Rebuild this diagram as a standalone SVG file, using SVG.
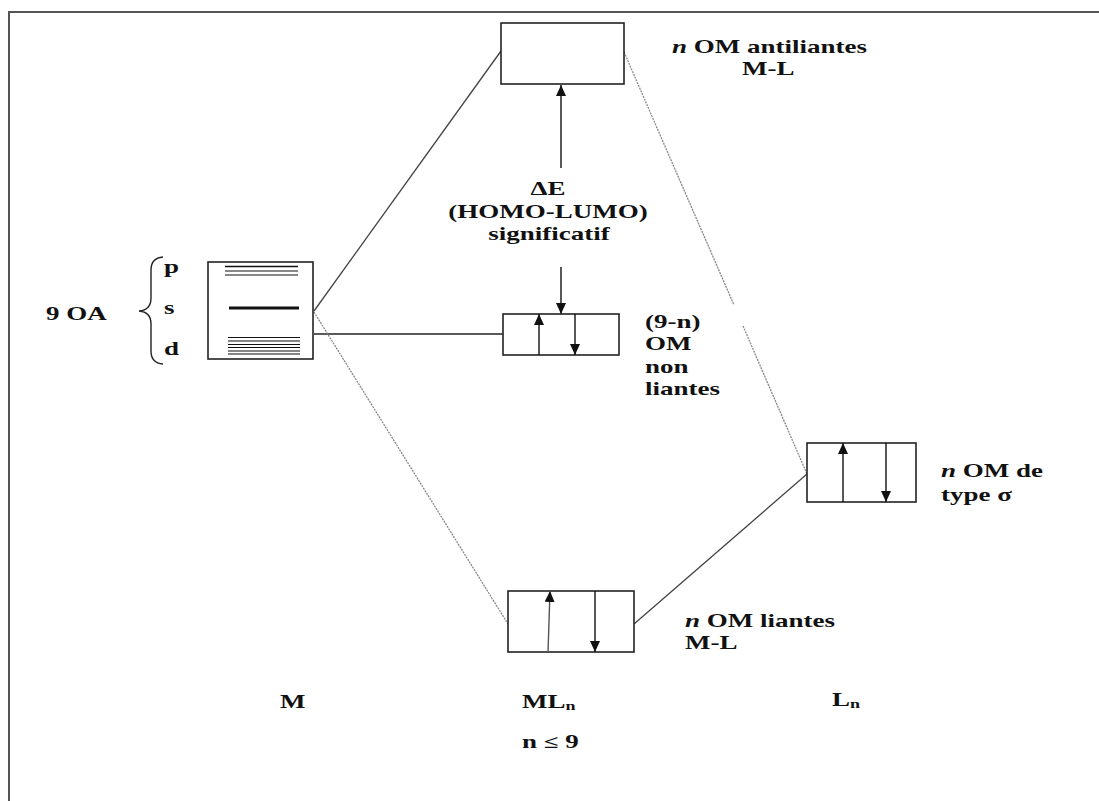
<svg xmlns="http://www.w3.org/2000/svg" width="1099" height="801" viewBox="0 0 1099 801">
<defs>
<style>
.t{font-family:"Liberation Serif","Times New Roman",serif;font-weight:bold;font-size:18px;fill:#111}
.c{text-anchor:middle}
.sub{font-size:12px}
.box{fill:#fff;stroke:#222;stroke-width:1.6}
.e{stroke:#111;stroke-width:1.4;fill:none}
.lv{stroke:#111;stroke-width:1.2}
.solid{stroke:#444;stroke-width:1.3;fill:none}
.dot{stroke:#888;stroke-width:1.3;stroke-dasharray:2 1;fill:none}
</style>
<marker id="ah" markerUnits="userSpaceOnUse" markerWidth="12" markerHeight="12" refX="11" refY="5" orient="auto">
<path d="M0,0 L11,5 L0,10 z" fill="#111"/>
</marker>
</defs>
<rect width="1099" height="801" fill="#fff"/>
<path d="M9,801 V12 H1099" fill="none" stroke="#555" stroke-width="2"/>

<g id="connectors">
<line class="solid" x1="314" y1="311" x2="501" y2="51"/>
<line class="solid" x1="314" y1="334" x2="503" y2="334" style="stroke:#222"/>
<line class="dot" x1="314" y1="312" x2="508" y2="624"/>
<line class="dot" x1="624" y1="52" x2="734" y2="305"/>
<line class="dot" x1="743" y1="326" x2="807" y2="474"/>
<line class="solid" x1="807" y1="474" x2="634" y2="624"/>
<line class="e" x1="561" y1="168" x2="561" y2="85" marker-end="url(#ah)"/>
<line class="e" x1="561" y1="267" x2="561" y2="314" marker-end="url(#ah)"/>
</g>

<g id="node-M">
<rect class="box" x="208" y="262" width="105" height="97"/>
<g class="lv">
<line x1="225" y1="266.5" x2="298" y2="266.5" style="stroke-width:1.5"/>
<line x1="225" y1="271" x2="298" y2="271"/>
<line x1="225" y1="275" x2="298" y2="275"/>
<line x1="229" y1="308" x2="299" y2="308" style="stroke-width:3.2"/>
<line x1="228" y1="337.5" x2="300" y2="337.5"/>
<line x1="228" y1="341" x2="300" y2="341"/>
<line x1="228" y1="344.5" x2="300" y2="344.5"/>
<line x1="228" y1="347.5" x2="300" y2="347.5"/>
<line x1="228" y1="351" x2="300" y2="351"/>
<line x1="228" y1="354" x2="300" y2="354"/>
</g>
<path d="M163,257 Q151,258 151,270 V298 Q151,310 139,311 Q151,312 151,324 V351 Q151,363 163,364" fill="none" stroke="#222" stroke-width="1.4"/>
<text class="t" transform="translate(164 273) scale(1.5 1)">p</text>
<text class="t" transform="translate(164 314) scale(1.5 1)">s</text>
<text class="t" transform="translate(164 355) scale(1.5 1)">d</text>
<text class="t" transform="translate(46 320) scale(1.5 1)">9 OA</text>
<text class="t" transform="translate(280 708) scale(1.5 1)">M</text>
</g>

<g id="node-antiliantes">
<rect class="box" x="501" y="23" width="123" height="61"/>
<text class="t" transform="translate(672 53) scale(1.5 1)"><tspan font-style="italic">n</tspan> OM antiliantes</text>
<text class="t" transform="translate(742 75) scale(1.5 1)">M-L</text>
</g>

<g id="node-gap">
<text class="t c" transform="translate(548 195) scale(1.5 1)">ΔE</text>
<text class="t c" transform="translate(548 218) scale(1.5 1)">(HOMO-LUMO)</text>
<text class="t c" transform="translate(549 240) scale(1.5 1)">significatif</text>
</g>

<g id="node-nonliantes">
<rect class="box" x="503" y="314" width="116" height="41"/>
<line class="e" x1="539" y1="355" x2="539" y2="314" marker-end="url(#ah)"/>
<line class="e" x1="575" y1="314" x2="575" y2="355" marker-end="url(#ah)"/>
<text class="t" transform="translate(645 328) scale(1.5 1)">(9-n)</text>
<text class="t" transform="translate(645 350) scale(1.5 1)">OM</text>
<text class="t" transform="translate(645 373) scale(1.5 1)">non</text>
<text class="t" transform="translate(645 395) scale(1.5 1)">liantes</text>
</g>

<g id="node-sigma">
<rect class="box" x="807" y="443" width="109" height="59"/>
<line class="e" x1="843" y1="502" x2="843" y2="443" marker-end="url(#ah)"/>
<line class="e" x1="886" y1="443" x2="886" y2="502" marker-end="url(#ah)"/>
<text class="t" transform="translate(941 477) scale(1.5 1)"><tspan font-style="italic">n</tspan> OM de</text>
<text class="t" transform="translate(941 501) scale(1.5 1)">type σ</text>
<text class="t" transform="translate(832 706) scale(1.5 1)">L<tspan class="sub" dy="2">n</tspan></text>
</g>

<g id="node-liantes">
<rect class="box" x="508" y="591" width="126" height="61"/>
<line class="e" x1="548" y1="652" x2="550" y2="591" marker-end="url(#ah)" style="stroke:#555"/>
<line class="e" x1="595" y1="591" x2="595" y2="652" marker-end="url(#ah)"/>
<text class="t" transform="translate(685 627) scale(1.5 1)"><tspan font-style="italic">n</tspan> OM liantes</text>
<text class="t" transform="translate(685 649) scale(1.5 1)">M-L</text>
<text class="t" transform="translate(522 708) scale(1.5 1)">ML<tspan class="sub" dy="2">n</tspan></text>
<text class="t" transform="translate(522 748) scale(1.5 1)">n ≤ 9</text>
</g>
</svg>
